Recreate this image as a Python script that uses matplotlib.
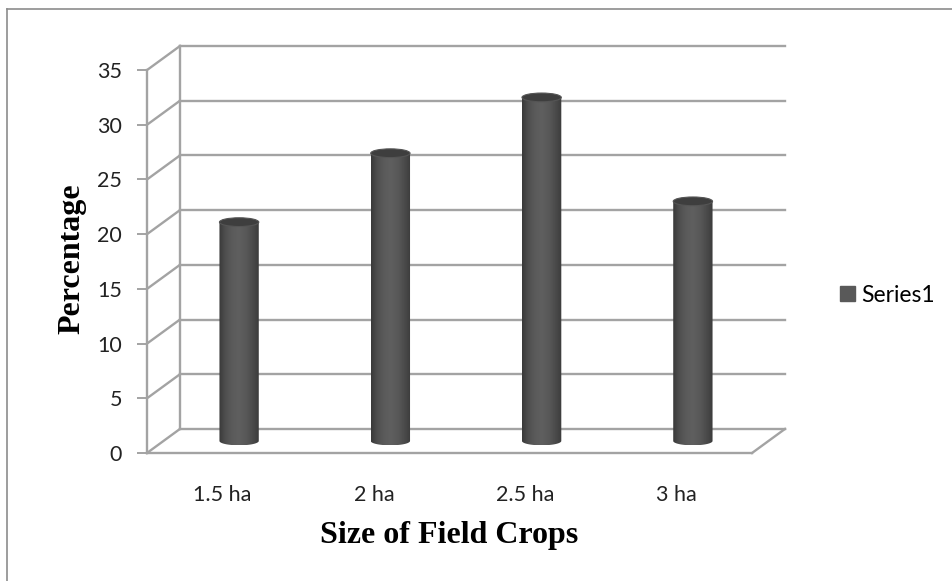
import matplotlib
matplotlib.use('Agg')
import matplotlib.pyplot as plt
import numpy as np
from matplotlib.patches import Ellipse, Patch, PathPatch
from matplotlib.path import Path
from matplotlib.colors import LinearSegmentedColormap
from matplotlib.lines import Line2D

# Data
categories = ['1.5 ha', '2 ha', '2.5 ha', '3 ha']
series1 = [20.0, 26.3, 31.4, 21.9]
y_ticks = [0, 5, 10, 15, 20, 25, 30, 35]

# Oblique 3D look: depth offset of the back wall in data units
DX = 0.218
DY = 2.2
BAR_W = 0.26
CAP_H = 0.8

GRID = '#a3a3a3'
W, H = 952, 581

fig = plt.figure(figsize=(W / 100, H / 100), dpi=100)
# axes placed so the front plane runs from x=147..752 px, y=453..70 px
ax = fig.add_axes([147 / W, (H - 453) / H, (785 - 147) / W, (453 - 46) / H])
ax.patch.set_visible(False)

x0, x1 = -0.5, len(categories) - 0.5
ymax = y_ticks[-1]

# back wall gridlines + side wall diagonals
for v in y_ticks:
    ax.plot([x0 + DX, x1 + DX], [v + DY, v + DY], color=GRID, lw=1.7, zorder=1, clip_on=False)
    ax.plot([x0, x0 + DX], [v, v + DY], color=GRID, lw=1.7, zorder=1, clip_on=False)
ax.plot([x0 + DX, x0 + DX], [DY, ymax + DY], color=GRID, lw=1.7, zorder=1, clip_on=False)
# floor edges
ax.plot([x0, x1], [0, 0], color=GRID, lw=1.7, zorder=1, clip_on=False)
ax.plot([x1, x1 + DX], [0, DY], color=GRID, lw=1.7, zorder=1, clip_on=False)

# cylinders
body_cmap = LinearSegmentedColormap.from_list(
    'cyl', ['#3a3a3a', '#505050', '#5b5b5b', '#5f5f5f', '#595959', '#4c4c4c', '#3c3c3c'])
grad = np.linspace(0, 1, 64).reshape(1, -1)
for i, val in enumerate(series1):
    cx = i + DX / 2
    base = DY / 2
    top = base + val
    left, right = cx - BAR_W / 2, cx + BAR_W / 2
    t = np.linspace(np.pi, 2 * np.pi, 40)
    bx = cx + BAR_W / 2 * np.cos(t)
    by = base + CAP_H / 2 * np.sin(t)
    verts = list(zip(bx, by)) + [(right, top), (left, top), (bx[0], by[0])]
    clip = PathPatch(Path(verts), facecolor='none', edgecolor='none', transform=ax.transData)
    ax.add_patch(clip)
    im = ax.imshow(grad, cmap=body_cmap, extent=[left, right, base - CAP_H / 2, top],
                   aspect='auto', zorder=3, interpolation='bilinear')
    im.set_clip_path(clip)
    ax.add_patch(Ellipse((cx, top), BAR_W, CAP_H, facecolor='#3e3e3e',
                         edgecolor='#555555', lw=0.8, zorder=4))

ax.set_xlim(x0, x1 + DX)
ax.set_ylim(0, ymax + DY)

# axes styling
for s in ['top', 'right', 'bottom']:
    ax.spines[s].set_visible(False)
ax.spines['left'].set_color(GRID)
ax.spines['left'].set_linewidth(1.7)
ax.spines['left'].set_bounds(0, ymax)

ax.set_yticks(y_ticks)
ax.set_yticklabels([str(v) for v in y_ticks])
ax.tick_params(axis='y', length=7, width=1.4, color=GRID, pad=11,
               labelsize=15.5, labelcolor='#222222')
ax.set_xticks(range(len(categories)))
ax.set_xticklabels(categories)
ax.tick_params(axis='x', length=0, pad=23, labelsize=15.5, labelcolor='#222222')
for lab in ax.get_xticklabels() + ax.get_yticklabels():
    lab.set_family('Lato')

fig.text(449 / W, 1 - 535 / H, 'Size of Field Crops', ha='center', va='center',
         family='Liberation Serif', weight='bold', fontsize=23, color='black')
fig.text(72 / W, 1 - 259 / H, 'Percentage', ha='center', va='center', rotation=90,
         family='Liberation Serif', weight='bold', fontsize=23, color='black')

fig.legend(handles=[Patch(facecolor='#595959', edgecolor='#595959', label='Series1')],
           loc='center left', bbox_to_anchor=(819 / W, 1 - 295 / H), frameon=False,
           handlelength=0.65, handleheight=0.65, handletextpad=0.3,
           prop={'family': 'Lato', 'size': 16.5})

# chart border
fig.add_artist(Line2D([7 / W, 7 / W], [0, 1 - 9 / H], color='#8c8c8c', lw=1.2))
fig.add_artist(Line2D([7 / W, 1], [1 - 9 / H, 1 - 9 / H], color='#8c8c8c', lw=1.2))

fig.savefig('out.png', dpi=100)
